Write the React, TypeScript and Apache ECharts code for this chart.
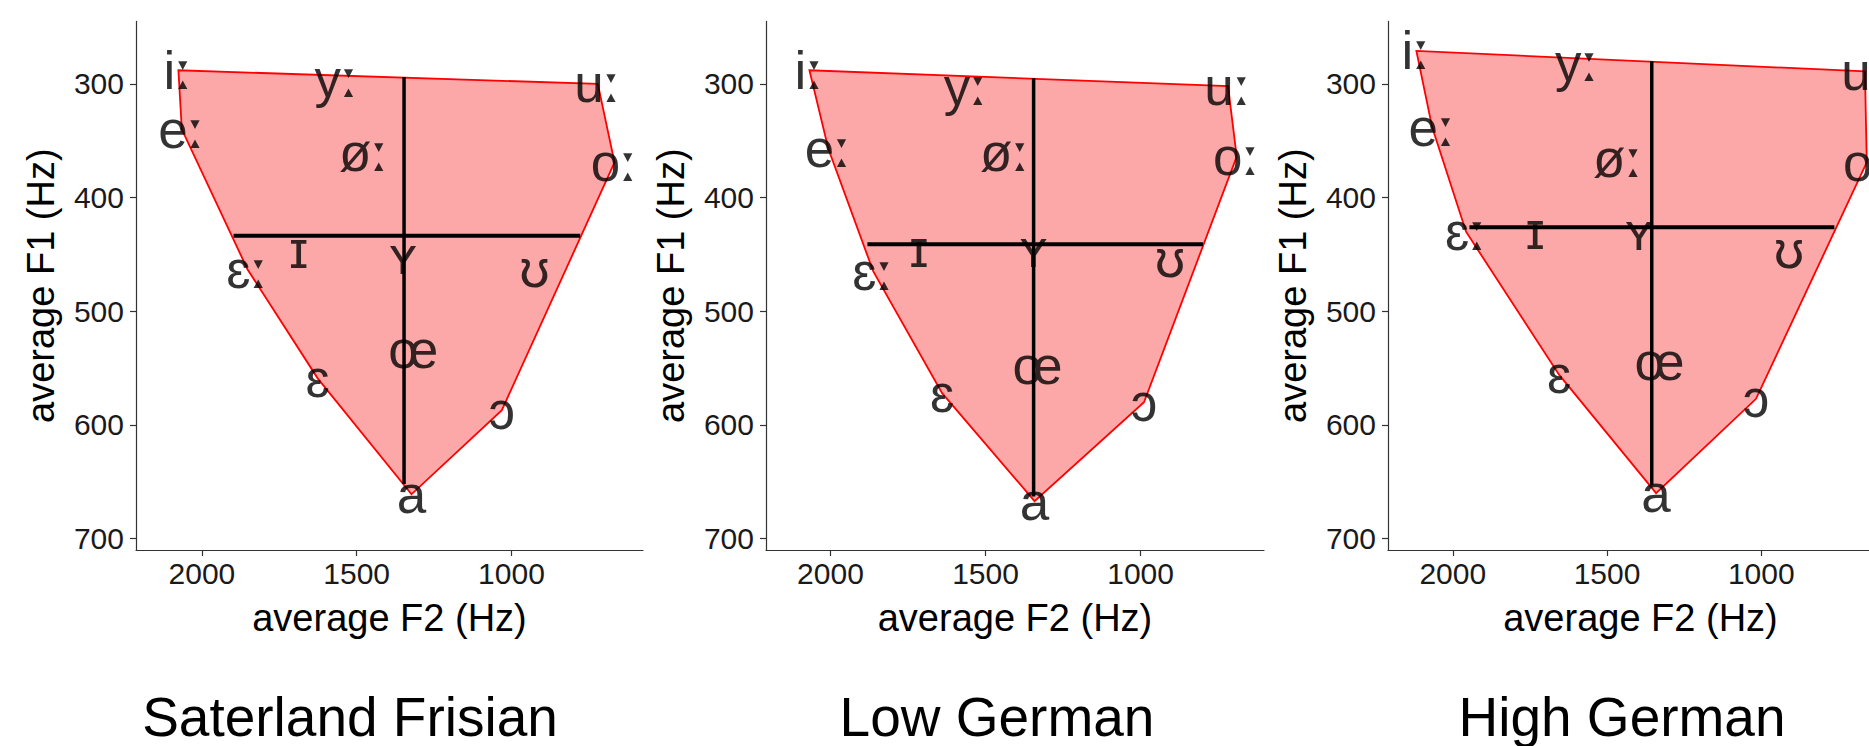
import React, { useEffect, useRef } from "react";
import * as echarts from "echarts";

// ---------- data ----------
const vowels = ["iː", "yː", "uː", "eː", "øː", "oː", "ɪ", "ʏ", "ʊ", "ɛː", "œ", "ɛ", "ɔ", "a"];
const panelTitles = ["Saterland Frisian", "Low German", "High German"];

// average F2 (Hz) / average F1 (Hz), same order as vowels
const frisianF2 = [2076, 1565, 721, 2065, 1476, 667, 1687, 1350, 925, 1853, 1317, 1626, 1031, 1323];
const frisianF1 = [288, 295, 300, 340, 360, 369, 446, 451, 462, 463, 534, 559, 587, 661];
const lowGermanF2 = [2068, 1563, 718, 2007, 1437, 690, 1715, 1345, 905, 1862, 1332, 1640, 989, 1342];
const lowGermanF1 = [288, 302, 302, 357, 360, 364, 445, 445, 454, 465, 548, 572, 580, 667];
const highGermanF2 = [2118, 1597, 664, 2067, 1464, 658, 1733, 1396, 910, 1957, 1330, 1655, 1017, 1341];
const highGermanF1 = [271, 281, 289, 338, 366, 369, 429, 430, 446, 430, 544, 556, 577, 660];

// centre cross: vertical line [F2, F1 top, F1 bottom], horizontal line [F1, F2 left, F2 right]
const frisianVertical = [1347, 294, 652];
const frisianHorizontal = [433.5, 1898, 778];
const lowGermanVertical = [1345, 295, 663];
const lowGermanHorizontal = [441, 1881, 799];
const highGermanVertical = [1355, 280, 653];
const highGermanHorizontal = [426, 1946, 763];

// axis ranges and ticks
const xRanges = [
  [575, 2213],
  [602, 2208],
  [573, 2210],
];
const yRange = [245, 710];
const xTicks = [2000, 1500, 1000];
const yTicks = [300, 400, 500, 600, 700];

// ---------- helpers ----------
const FONT = '"Liberation Sans", Arial, Helvetica, "DejaVu Sans", sans-serif';
const LENGTH_MARK = "ː";

function convexHull(points: number[][]): number[][] {
  const pts = points.slice().sort((a, b) => (a[0] === b[0] ? a[1] - b[1] : a[0] - b[0]));
  const cross = (o: number[], a: number[], b: number[]) =>
    (a[0] - o[0]) * (b[1] - o[1]) - (a[1] - o[1]) * (b[0] - o[0]);
  const lower: number[][] = [];
  for (const p of pts) {
    while (lower.length >= 2 && cross(lower[lower.length - 2], lower[lower.length - 1], p) <= 0) lower.pop();
    lower.push(p);
  }
  const upper: number[][] = [];
  for (let i = pts.length - 1; i >= 0; i--) {
    const p = pts[i];
    while (upper.length >= 2 && cross(upper[upper.length - 2], upper[upper.length - 1], p) <= 0) upper.pop();
    upper.push(p);
  }
  upper.pop();
  lower.pop();
  return lower.concat(upper);
}

const panels = [
  { f2: frisianF2, f1: frisianF1, v: frisianVertical, h: frisianHorizontal, left: 136, width: 507, titleX: 350 },
  { f2: lowGermanF2, f1: lowGermanF1, v: lowGermanVertical, h: lowGermanHorizontal, left: 766, width: 498, titleX: 997 },
  { f2: highGermanF2, f1: highGermanF1, v: highGermanVertical, h: highGermanHorizontal, left: 1388, width: 505, titleX: 1622 },
];

const GRID_TOP = 21.4;
const GRID_H = 528.6;

export default function App() {
  const ref = useRef<HTMLDivElement>(null);

  useEffect(() => {
    if (!ref.current) return;
    const chart = echarts.init(ref.current, null, { renderer: "svg" });

    const axisColor = "#333333";
    const grid: any[] = [];
    const xAxis: any[] = [];
    const yAxis: any[] = [];
    const series: any[] = [];
    const graphic: any[] = [];

    panels.forEach((p, i) => {
      grid.push({
        left: p.left,
        top: GRID_TOP,
        width: p.width,
        height: GRID_H,
        containLabel: false,
        outerBoundsMode: "none",
      });
      xAxis.push({
        type: "value",
        gridIndex: i,
        inverse: true,
        min: xRanges[i][0],
        max: xRanges[i][1],
        splitLine: { show: false },
        axisLine: { show: true, onZero: false, lineStyle: { color: axisColor, width: 1.2 } },
        axisTick: { show: true, length: 6, customValues: xTicks, lineStyle: { color: axisColor, width: 1.2 } },
        axisLabel: {
          customValues: xTicks,
          formatter: (v: number) => String(v),
          fontSize: 30,
          color: "#1a1a1a",
          margin: 8,
          fontFamily: FONT,
        },
        name: "average F2 (Hz)",
        nameLocation: "middle",
        nameGap: 49,
        nameTextStyle: { fontSize: 38, color: "#000", fontFamily: FONT },
      });
      yAxis.push({
        type: "value",
        gridIndex: i,
        inverse: true,
        min: yRange[0],
        max: yRange[1],
        splitLine: { show: false },
        axisLine: { show: true, onZero: false, lineStyle: { color: axisColor, width: 1.2 } },
        axisTick: { show: true, length: 6, customValues: yTicks, lineStyle: { color: axisColor, width: 1.2 } },
        axisLabel: {
          customValues: yTicks,
          formatter: (v: number) => String(v),
          fontSize: 30,
          color: "#1a1a1a",
          margin: 12,
          fontFamily: FONT,
        },
        name: "average F1 (Hz)",
        nameLocation: "middle",
        nameRotate: 90,
        nameGap: 76,
        nameTextStyle: { fontSize: 38, color: "#000", fontFamily: FONT },
      });

      const points = p.f2.map((x, k) => [x, p.f1[k]]);
      const hull = convexHull(points);

      series.push({
        type: "custom",
        xAxisIndex: i,
        yAxisIndex: i,
        silent: true,
        z: 1,
        data: hull,
        renderItem: (params: any, api: any) => {
          if (params.dataIndex !== 0) return null;
          const pts = hull.map((q) => api.coord(q));
          return {
            type: "polygon",
            shape: { points: pts },
            style: { fill: "rgb(252,168,168)", stroke: "#ff0000", lineWidth: 1.8 },
          };
        },
      });

      series.push({
        type: "line",
        xAxisIndex: i,
        yAxisIndex: i,
        silent: true,
        z: 2,
        symbol: "none",
        lineStyle: { color: "#000", width: 3.5 },
        data: [
          [p.v[0], p.v[1]],
          [p.v[0], p.v[2]],
        ],
      });
      series.push({
        type: "line",
        xAxisIndex: i,
        yAxisIndex: i,
        silent: true,
        z: 2,
        symbol: "none",
        lineStyle: { color: "#000", width: 4 },
        data: [
          [p.h[1], p.h[0]],
          [p.h[2], p.h[0]],
        ],
      });

      series.push({
        type: "scatter",
        xAxisIndex: i,
        yAxisIndex: i,
        silent: true,
        z: 3,
        symbol: "circle",
        symbolSize: 1,
        itemStyle: { color: "rgba(0,0,0,0)" },
        label: {
          show: true,
          position: "inside",
          formatter: (d: any) => {
            const n: string = d.name;
            if (n.endsWith(LENGTH_MARK)) return `{v|${n.slice(0, -1)}}{l|${LENGTH_MARK}}`;
            return `{v|${n}}`;
          },
          align: "center",
          verticalAlign: "middle",
          rich: {
            v: { fontSize: 53, color: "#000", fontFamily: FONT },
            l: { fontSize: 53, color: "#000", fontFamily: '"DejaVu Sans", sans-serif' },
          },
        },
        data: vowels.map((name, k) => ({ name, value: [p.f2[k], p.f1[k]] })),
      });

      graphic.push({
        type: "text",
        x: p.titleX,
        y: 717,
        silent: true,
        style: {
          text: panelTitles[i],
          fontSize: 55,
          fontFamily: FONT,
          fill: "#000",
          align: "center",
          verticalAlign: "middle",
        },
      });
    });

    chart.setOption({
      animation: false,
      backgroundColor: "#ffffff",
      grid,
      xAxis,
      yAxis,
      series,
      graphic,
    });

    return () => chart.dispose();
  }, []);

  return (
    <div
      ref={ref}
      style={{ position: "fixed", left: 0, top: 0, width: 1869, height: 746, background: "#fff" }}
    />
  );
}
